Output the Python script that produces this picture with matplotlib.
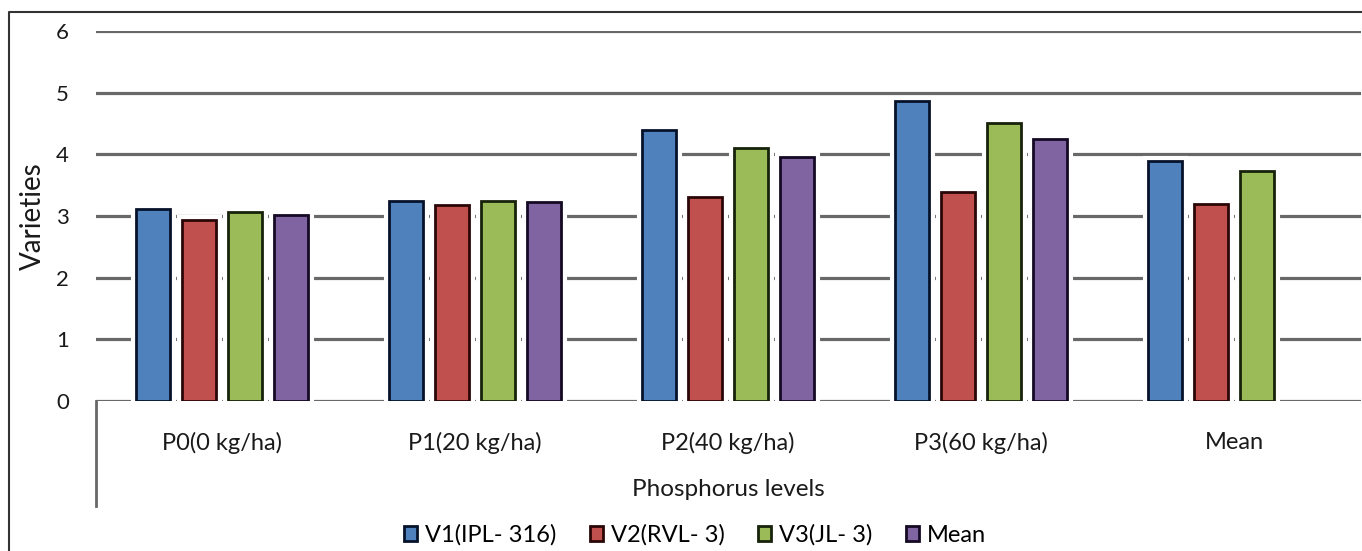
import numpy as np
import matplotlib
matplotlib.use('Agg')
import matplotlib.pyplot as plt
from matplotlib.lines import Line2D

# data
categories = ['P0(0 kg/ha)', 'P1(20 kg/ha)', 'P2(40 kg/ha)', 'P3(60 kg/ha)', 'Mean']
v1 = [3.11, 3.25, 4.39, 4.86, 3.89]
v2 = [2.93, 3.18, 3.31, 3.39, 3.19]
v3 = [3.06, 3.25, 4.11, 4.51, 3.73]
mean = [3.01, 3.22, 3.95, 4.25, np.nan]
series_names = ['V1(IPL- 316)', 'V2(RVL- 3)', 'V3(JL- 3)', 'Mean']
colors = ['#4F81BD', '#C0504D', '#9BBB59', '#8064A2']
edges = ['#06122a', '#2a0606', '#17220a', '#140a24']

plt.rcParams['font.family'] = ['Lato', 'DejaVu Sans']

fig = plt.figure(figsize=(13.62, 5.51), dpi=100)
ax = fig.add_axes([95.5 / 1362, 1 - 401 / 551, 1265 / 1362, 370 / 551])

x = np.arange(len(categories))
step = 0.182
width = 0.133
all_series = [v1, v2, v3, mean]
handles = []
for i, vals in enumerate(all_series):
    pos = x + (i - 1.5) * step
    # white halo hides gridlines next to bars (as in the original)
    ax.bar(pos, vals, width, color='white', edgecolor='white', linewidth=8, zorder=2)
    b = ax.bar(pos, vals, width, color=colors[i], edgecolor=edges[i], linewidth=2,
               zorder=3, label=series_names[i])
    handles.append(b)

ax.set_xlim(-0.5, len(categories) - 0.5)
ax.set_ylim(0, 6)
ax.set_yticks(range(0, 7))
ax.yaxis.grid(True, color='#686868', linewidth=2.3, zorder=1)
ax.set_axisbelow(True)
for s in ax.spines.values():
    s.set_visible(False)
ax.tick_params(axis='y', length=0, pad=19, labelsize=16, labelcolor='#1a1a1a')
ax.tick_params(axis='x', length=0, pad=22, labelsize=17, labelcolor='#1a1a1a')
ax.set_xticks(x)
ax.set_xticklabels(categories)
ax.set_ylabel('Varieties', fontsize=20, labelpad=7, color='#1a1a1a')
ax.set_xlabel('Phosphorus levels', fontsize=17.5, labelpad=18, color='#1a1a1a')

# category axis line extending below zero
ax.add_line(Line2D([0, 0], [0, -105 / 370], transform=ax.transAxes, color='#686868',
                   linewidth=2, clip_on=False))

# outer chart border (left and top edges visible)
fig.add_artist(Line2D([9 / 1362, 9 / 1362, 1.01], [-0.01, 1 - 12 / 551, 1 - 12 / 551],
                      transform=fig.transFigure, color='#333333', linewidth=1.5))

fig.legend(handles=handles, labels=series_names, loc='center', ncol=4,
           bbox_to_anchor=(695 / 1362, 1 - 535 / 551), frameon=False, fontsize=17,
           handlelength=0.55, handleheight=0.55, handletextpad=0.35, columnspacing=1.4)

fig.savefig('out.png', dpi=100)
